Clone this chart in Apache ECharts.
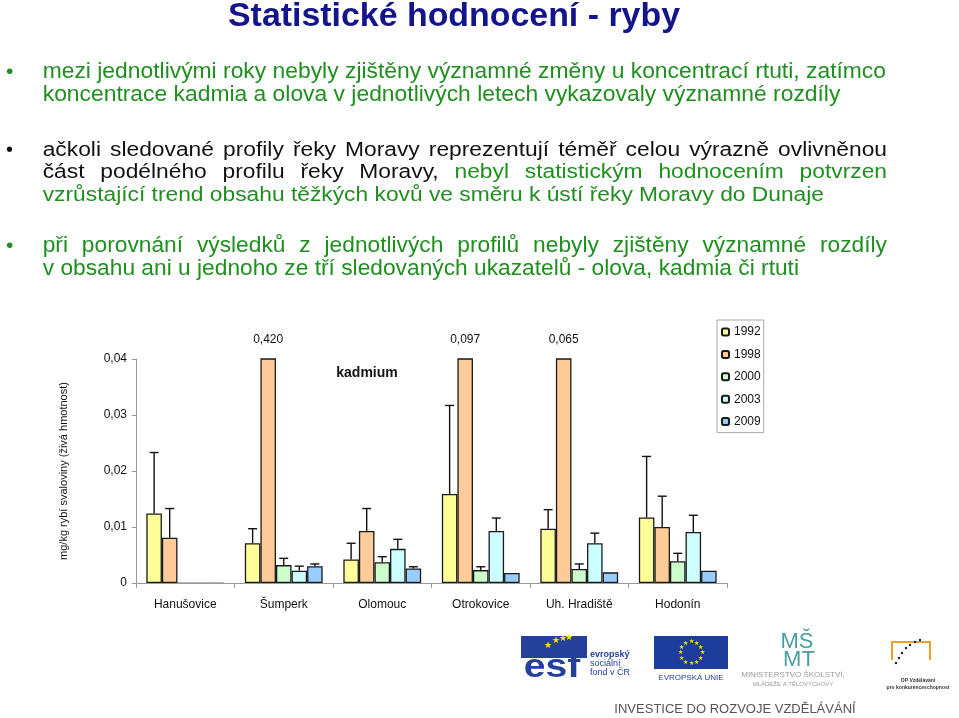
<!DOCTYPE html>
<html><head><meta charset="utf-8">
<script src="https://cdn.jsdelivr.net/npm/echarts@6/dist/echarts.min.js"></script>
<style>html,body{margin:0;padding:0;background:#fff}#c{width:959px;height:718px}</style>
</head><body><div id="c"></div>
<script>
// ---------- DATA ----------
const categories = ['Hanušovice', 'Šumperk', 'Olomouc', 'Otrokovice', 'Uh. Hradiště', 'Hodonín'];
const years = ['1992', '1998', '2000', '2003', '2009'];
// mean values (mg/kg)
const v1992 = [0.0124, 0.0071, 0.0042, 0.0159, 0.0097, 0.0117];
const v1998 = [0.0081, 0.420, 0.0093, 0.097, 0.065, 0.0100];
const v2000 = [0, 0.0032, 0.0037, 0.0023, 0.0025, 0.0039];
const v2003 = [0, 0.0022, 0.0061, 0.0093, 0.0071, 0.0091];
const v2009 = [0, 0.0030, 0.0026, 0.0018, 0.0019, 0.0022];
// upper end of error bars (null = none)
const e1992 = [0.0233, 0.0097, 0.0071, 0.0317, 0.0131, 0.0226];
const e1998 = [0.0133, null, 0.0133, null, null, 0.0155];
const e2000 = [null, 0.0044, 0.0047, 0.0029, 0.0034, 0.0053];
const e2003 = [null, 0.0030, 0.0078, 0.0116, 0.0089, 0.0121];
const e2009 = [null, 0.0034, 0.0029, null, null, null];
const yTicks = [0, 0.01, 0.02, 0.03, 0.04];

// ---------- TEXTS ----------
const titleText = 'Statistické hodnocení - ryby';
const bullet1 = ['mezi jednotlivými roky nebyly zjištěny významné změny u koncentrací rtuti, zatímco',
                 'koncentrace kadmia a olova v jednotlivých letech vykazovaly významné rozdíly'];
const bullet2 = [[['ačkoli sledované profily řeky Moravy reprezentují téměř celou výrazně ovlivněnou', 'k']],
                 [['část podélného profilu řeky Moravy,', 'k'], ['nebyl statistickým hodnocením potvrzen', 'g']],
                 [['vzrůstající trend obsahu těžkých kovů ve směru k ústí řeky Moravy do Dunaje', 'g']]];
const bullet3 = ['při porovnání výsledků z jednotlivých profilů nebyly zjištěny významné rozdíly',
                 'v obsahu ani u jednoho ze tří sledovaných ukazatelů - olova, kadmia či rtuti'];
const chartLabel = 'kadmium';
const yAxisName = 'mg/kg rybí svaloviny (živá hmotnost)';

// ---------- STYLE ----------
const COLORS = ['#FFFF99', '#FFCC99', '#CCFFCC', '#CCFFFF', '#99CCFF'];
const GREEN = '#1F8F1F', BLACK = '#111111', NAVY = '#14148C';
const FONT = '"Liberation Sans", Arial, sans-serif';
const CAT_GAP = 0.21;
const Y_MAX = 0.04;

const mctx = document.createElement('canvas').getContext('2d');
function measure(t, font) { mctx.font = font; return mctx.measureText(t).width; }

const graphics = [];
function addText(t, x, y, font, fill, sx, extra) {
  graphics.push(Object.assign({ type: 'text', x: x, y: y, scaleX: sx || 1,
    style: { text: t, font: font, fill: fill, verticalAlign: 'middle', align: 'left' }, silent: true }, extra || {}));
}
// tokens: [[text,colorKey],...]; justify to x1 or natural spacing
function layoutLine(tokens, x0, x1, y, font, sx, justify) {
  const words = [];
  tokens.forEach(tk => tk[0].split(' ').forEach(w => { if (w) words.push([w, tk[1] === 'g' ? GREEN : BLACK]); }));
  const widths = words.map(w => measure(w[0], font) * sx);
  const sum = widths.reduce((a, b) => a + b, 0);
  const gap = justify ? (x1 - x0 - sum) / (words.length - 1) : measure(' ', font) * sx;
  let x = x0;
  words.forEach((w, i) => { addText(w[0], x, y, font, w[1], sx); x += widths[i] + gap; });
}

// title
{
  const f = 'bold 34px ' + FONT;
  const sx = 452 / measure(titleText, f);
  graphics.push({ type: 'text', x: 454, y: 17, scaleX: sx, silent: true,
    style: { text: titleText, font: f, fill: NAVY, align: 'center', verticalAlign: 'middle' } });
}
const X0 = 42.7, XR = 887;
// bullet 1 (condensed, left aligned)
{
  const f = '22.5px ' + FONT;
  const sx = (886 - X0) / measure(bullet1[0], f);
  addText('•', 6, 72, '21px ' + FONT, GREEN, 1);
  layoutLine([[bullet1[0], 'g']], X0, 0, 72, f, sx, false);
  layoutLine([[bullet1[1], 'g']], X0, 0, 95, f, sx, false);
}
// bullet 2 (regular, justified)
{
  const f = '20px ' + FONT;
  const sx = (824 - X0) / measure(bullet2[2][0][0], f);
  addText('•', 6, 150, f, BLACK, 1);
  layoutLine(bullet2[0], X0, XR, 150, f, sx, true);
  layoutLine(bullet2[1], X0, XR, 172.5, f, sx, true);
  layoutLine(bullet2[2], X0, 0, 195, f, sx, false);
}
// bullet 3 (condensed, justified)
{
  const f = '22.5px ' + FONT;
  const sx = (799 - X0) / measure(bullet3[1], f);
  addText('•', 6, 246, '21px ' + FONT, GREEN, 1);
  layoutLine([[bullet3[0], 'g']], X0, XR, 246, f, sx, true);
  layoutLine([[bullet3[1], 'g']], X0, 0, 268.5, f, sx, false);
}
// chart label
graphics.push({ type: 'text', x: 367, y: 373, silent: true,
  style: { text: chartLabel, font: 'bold 14px ' + FONT, fill: '#111', align: 'center', verticalAlign: 'middle' } });

// ---------- logos (approximate) ----------
const BLUE = '#25409A';
// ESF
graphics.push({ type: 'rect', shape: { x: 521, y: 636, width: 66, height: 22 }, style: { fill: BLUE }, silent: true });
graphics.push({ type: 'text', x: 552, y: 668, silent: true, scaleX: 1.15,
  style: { text: 'esf', font: 'bold 34px ' + FONT, fill: BLUE, align: 'center', verticalAlign: 'middle' } });
[[548, 646], [556, 641], [563, 639], [569, 638]].forEach(p =>
  graphics.push({ type: 'text', x: p[0], y: p[1], silent: true, style: { text: '★', font: '9px ' + FONT, fill: '#FFE400', align: 'center', verticalAlign: 'middle' } }));
addText('evropský', 590, 655, 'bold 9px ' + FONT, BLUE, 1);
addText('sociální', 590, 664, '9px ' + FONT, BLUE, 1);
addText('fond v ČR', 590, 673, '9px ' + FONT, BLUE, 1);
// EU
graphics.push({ type: 'rect', shape: { x: 654, y: 636, width: 74, height: 33 }, style: { fill: '#1E3C9C' }, silent: true });
for (let i = 0; i < 12; i++) {
  const a = i * Math.PI / 6;
  graphics.push({ type: 'text', x: 691 + 11 * Math.cos(a), y: 652.5 + 11 * Math.sin(a), silent: true,
    style: { text: '★', font: '6px ' + FONT, fill: '#FFE400', align: 'center', verticalAlign: 'middle' } });
}
graphics.push({ type: 'text', x: 691, y: 678, silent: true, style: { text: 'EVROPSKÁ UNIE', font: '8px ' + FONT, fill: BLUE, align: 'center', verticalAlign: 'middle' } });
// MSMT
graphics.push({ type: 'text', x: 797, y: 642, silent: true, style: { text: 'MŠ', font: '22px ' + FONT, fill: '#4A9E9E', align: 'center', verticalAlign: 'middle' } });
graphics.push({ type: 'text', x: 799, y: 660, silent: true, style: { text: 'MT', font: '22px ' + FONT, fill: '#4A9E9E', align: 'center', verticalAlign: 'middle' } });
graphics.push({ type: 'text', x: 793, y: 675, silent: true, style: { text: 'MINISTERSTVO ŠKOLSTVÍ,', font: '8px ' + FONT, fill: '#999', align: 'center', verticalAlign: 'middle' } });
graphics.push({ type: 'text', x: 793, y: 684, silent: true, style: { text: 'MLÁDEŽE A TĚLOVÝCHOVY', font: '6px ' + FONT, fill: '#999', align: 'center', verticalAlign: 'middle' } });
// OP
graphics.push({ type: 'polyline', shape: { points: [[892, 660], [892, 642], [930, 642], [930, 660]] }, style: { stroke: '#F0A020', lineWidth: 2, fill: null }, silent: true });
[[896, 663], [899, 658], [902, 653], [906, 648], [910, 645], [915, 642], [920, 640]].forEach(p =>
  graphics.push({ type: 'circle', shape: { cx: p[0], cy: p[1], r: 1.2 }, style: { fill: '#222' }, silent: true }));
graphics.push({ type: 'text', x: 918, y: 681, silent: true, style: { text: 'OP Vzdělávání', font: 'bold 5px ' + FONT, fill: '#333', align: 'center', verticalAlign: 'middle' } });
graphics.push({ type: 'text', x: 918, y: 688, silent: true, style: { text: 'pro konkurenceschopnost', font: 'bold 5px ' + FONT, fill: '#333', align: 'center', verticalAlign: 'middle' } });
graphics.push({ type: 'text', x: 735, y: 709, silent: true, style: { text: 'INVESTICE DO ROZVOJE VZDĚLÁVÁNÍ', font: '13px ' + FONT, fill: '#555', align: 'center', verticalAlign: 'middle' } });

// ---------- series ----------
const values = [v1992, v1998, v2000, v2003, v2009];
const errs = [e1992, e1998, e2000, e2003, e2009];
const fmt = (v, d) => v === 0 ? '0' : v.toFixed(d).replace('.', ',');

const barSeries = years.map((y, k) => ({
  name: y, type: 'bar', barGap: '0%', barCategoryGap: (CAT_GAP * 100) + '%',
  itemStyle: { color: COLORS[k], borderColor: '#1a1a1a', borderWidth: 1.3 },
  data: values[k].map(v => v > Y_MAX ? {
    value: v,
    label: { show: true, position: 'top', distance: 13, formatter: p => fmt(p.value, 3),
      color: '#111', fontSize: 12, fontFamily: FONT }
  } : (v === 0 ? { value: v, itemStyle: { borderColor: '#999' } } : v)),
  silent: true, z: 2
}));

function errRender(k) {
  return function (params, api) {
    const i = api.value(0), v = api.value(1), e = api.value(2);
    const catW = api.size([1, 0])[0];
    const groupW = catW * (1 - CAT_GAP);
    const bw = groupW / years.length;
    const x = api.coord([i, 0])[0] - groupW / 2 + (k + 0.5) * bw;
    const y0 = api.coord([i, v])[1], y1 = api.coord([i, e])[1];
    const st = { stroke: '#111', lineWidth: 1.4 };
    return { type: 'group', children: [
      { type: 'line', shape: { x1: x, y1: y0, x2: x, y2: y1 }, style: st },
      { type: 'line', shape: { x1: x - 4.5, y1: y1, x2: x + 4.5, y2: y1 }, style: st }
    ] };
  };
}
const errSeries = years.map((y, k) => ({
  name: 'err' + y, type: 'custom', renderItem: errRender(k), z: 3, silent: true,
  encode: { x: 0, y: 1 },
  data: errs[k].map((e, i) => e == null ? null : [i, values[k][i], e]).filter(d => d)
}));

const option = {
  animation: false,
  backgroundColor: '#ffffff',
  textStyle: { fontFamily: FONT },
  grid: { left: 136, right: 232, top: 359, bottom: 135 },
  legend: {
    data: years, orient: 'vertical', left: 717, top: 320,
    itemWidth: 7, itemHeight: 7, itemGap: 8.4,
    borderColor: '#aaa', borderWidth: 1, padding: [5, 3, 4, 4],
    textStyle: { fontSize: 12, color: '#111', lineHeight: 14, fontFamily: FONT }
  },
  xAxis: {
    type: 'category', data: categories,
    axisLine: { lineStyle: { color: '#999' } },
    axisTick: { show: true, length: 5, lineStyle: { color: '#999' } },
    axisLabel: { color: '#111', fontSize: 12, margin: 16, interval: 0, fontFamily: FONT }
  },
  yAxis: {
    type: 'value', min: yTicks[0], max: yTicks[yTicks.length - 1], interval: yTicks[1] - yTicks[0],
    name: yAxisName, nameLocation: 'middle', nameRotate: 90, nameGap: 67,
    nameTextStyle: { fontSize: 11, color: '#111', fontFamily: FONT },
    axisLine: { show: true, lineStyle: { color: '#999' } },
    axisTick: { show: true, length: 4, lineStyle: { color: '#999' } },
    splitLine: { show: false },
    axisLabel: { color: '#111', fontSize: 12, margin: 9, formatter: v => fmt(v, 2), fontFamily: FONT }
  },
  graphic: graphics,
  series: barSeries.concat(errSeries)
};
const chart = echarts.init(document.getElementById('c'));
chart.setOption(option);
</script></body></html>
